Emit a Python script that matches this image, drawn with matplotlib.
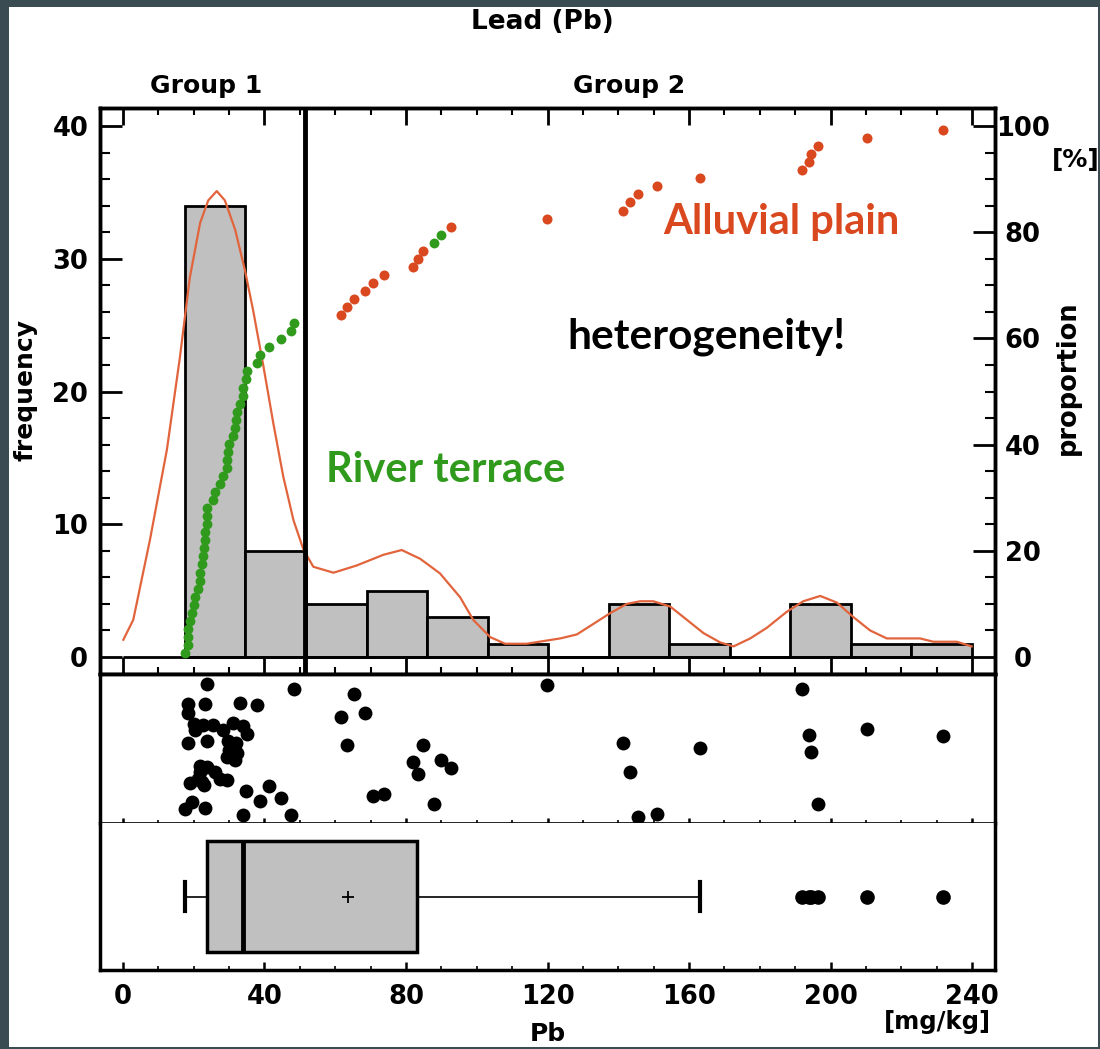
import numpy as np
import matplotlib
matplotlib.use("Agg")
from matplotlib import pyplot as plt
from matplotlib.patches import Rectangle
from matplotlib.ticker import MultipleLocator

plt.rcParams['font.family'] = ['DejaVu Sans']
plt.rcParams['font.weight'] = 'bold'

# Pb samples [mg/kg], sorted; True = river terrace (green), False = alluvial plain
pb = [17.5, 18.5, 18.5, 18.5, 18.8, 19.4, 20.1, 20.4, 21.3, 21.8, 21.8, 22.2,
      22.5, 23.0, 23.2, 23.2, 23.8, 23.8, 23.8, 25.4, 26.0, 27.4, 28.2, 29.3,
      29.3, 29.8, 30.1, 31.2, 31.7, 31.9, 32.1, 33.1, 34.0, 34.0, 34.8, 35.1,
      38.0, 38.7, 41.4, 44.7, 47.4, 48.3,
      61.5, 63.2, 65.3, 68.5, 70.6, 73.8, 81.9, 83.5, 84.7, 87.9, 89.8, 92.6,
      119.9, 141.4, 143.4, 145.6, 151.0, 163.1, 192.0, 194.0, 194.5, 196.5,
      210.3, 231.8]
terrace = [True] * 42 + [False] * 9 + [True, True] + [False] * 13

# vertical scatter of the samples in the middle strip (0 = bottom, 1 = top)
strip_y = [0.096, 0.801, 0.740, 0.539, 0.270, 0.141, 0.666, 0.622, 0.293, 0.342,
           0.383, 0.275, 0.660, 0.253, 0.801, 0.101, 0.931, 0.548, 0.376, 0.660,
           0.342, 0.293, 0.626, 0.443, 0.286, 0.548, 0.488, 0.673, 0.421, 0.537,
           0.470, 0.807, 0.056, 0.651, 0.215, 0.600, 0.790, 0.146, 0.247, 0.170,
           0.056, 0.901,
           0.711, 0.525, 0.868, 0.740, 0.181, 0.196, 0.409, 0.326, 0.521, 0.129,
           0.421, 0.371, 0.924, 0.537, 0.340, 0.040, 0.062, 0.506, 0.898, 0.591,
           0.479, 0.128, 0.634, 0.585]

# density curve (scaled to frequency)
kde_x = [0.1, 2.9, 7.6, 12.4, 16.1, 18.9, 21.8, 24.1, 26.5, 28.8, 31.7, 34.5,
         36.8, 39.7, 42.5, 45.3, 48.2, 51.0, 53.8, 59.5, 66.1, 73.6, 78.8, 84.0,
         89.6, 95.3, 99.0, 103.8, 108.0, 114.1, 118.8, 123.6, 128.3, 133.0, 137.7,
         142.4, 146.2, 149.9, 154.7, 159.4, 164.1, 168.8, 172.6, 177.3, 182.0,
         187.6, 192.3, 197.1, 201.8, 206.5, 211.2, 215.9, 225.3, 229.1, 235.7, 239.9]
kde_y = [1.3, 2.8, 8.8, 15.6, 22.6, 28.6, 32.7, 34.4, 35.1, 34.4, 32.2, 29.1,
         26.1, 21.9, 17.6, 13.6, 10.3, 8.1, 6.8, 6.35, 6.9, 7.7, 8.06, 7.4,
         6.3, 4.5, 2.8, 1.5, 1.0, 1.0, 1.2, 1.4, 1.7, 2.5, 3.3,
         4.0, 4.2, 4.2, 3.8, 2.8, 1.8, 1.1, 0.8, 1.4, 2.2,
         3.4, 4.2, 4.6, 4.1, 3.0, 2.0, 1.4, 1.4, 1.15, 1.15, 0.8]

group_split = 51.5
hist_bins = np.linspace(17.5, 240, 14)

ORANGE = '#D9481E'
GREEN = '#2F9A1C'
GREY = '#C0C0C0'

W, H = 1100, 1049
fig = plt.figure(figsize=(W / 100, H / 100), dpi=100)
fig.patch.set_facecolor('#3B4B52')
fig.add_artist(Rectangle((9 / W, 2 / H), 1089 / W, 1040 / H, transform=fig.transFigure,
                         facecolor='white', edgecolor='none', zorder=-10))


def fx(x):
    return x / W


def fy(y):
    return 1 - y / H


L, R = 100, 995
ax_h = fig.add_axes([fx(L), fy(674), (R - L) / W, (674 - 108) / H])
ax_s = fig.add_axes([fx(L), fy(823), (R - L) / W, (823 - 674) / H], sharex=ax_h)
ax_b = fig.add_axes([fx(L), fy(970), (R - L) / W, (970 - 823) / H], sharex=ax_h)
ax_p = ax_h.twinx()

pb_arr = np.array(pb)
n = len(pb_arr)
order = np.argsort(pb_arr, kind='stable')
pct = (np.arange(n) + 0.5) / n * 100
is_ter = np.array(terrace)[order]

# ---- histogram panel
ax_h.hist(pb_arr, bins=hist_bins, color=GREY, edgecolor='black', linewidth=2, zorder=2)
ax_h.hlines(0, 0, 240, color='black', lw=2, zorder=3)
ax_h.plot(kde_x, kde_y, color='#E2643C', lw=1.6, zorder=4)
ax_h.axvline(group_split, color='black', lw=3.5, zorder=6)

ax_p.scatter(pb_arr[order][~is_ter], pct[~is_ter], s=52, color=ORANGE, zorder=5, linewidths=0)
ax_p.scatter(pb_arr[order][is_ter], pct[is_ter], s=50, color=GREEN, zorder=5, linewidths=0)

ax_h.set_xlim(-6.5, 246.5)
ax_h.set_ylim(-1.28, 41.36)
ax_p.set_ylim(-1.28 * 2.5, 41.36 * 2.5)

ax_h.xaxis.set_major_locator(MultipleLocator(40))
ax_h.xaxis.set_minor_locator(MultipleLocator(10))
ax_h.set_yticks([0, 10, 20, 30, 40])
ax_h.yaxis.set_minor_locator(MultipleLocator(2))
ax_p.set_yticks([0, 20, 40, 60, 80, 100])
ax_p.yaxis.set_minor_locator(MultipleLocator(5))

ax_h.tick_params(axis='x', which='both', direction='in', top=True, bottom=True,
                 labelbottom=False)
ax_h.tick_params(axis='x', which='major', length=12, width=2)
ax_h.tick_params(axis='x', which='minor', length=5, width=1.5)
ax_h.tick_params(axis='y', which='both', direction='in', left=True, right=False)
ax_h.tick_params(axis='y', which='major', length=16, width=2, labelsize=18.5, pad=8.5)
ax_h.tick_params(axis='y', which='minor', length=7, width=1.5)
ax_p.tick_params(axis='y', which='both', direction='in', right=True)
ax_p.tick_params(axis='y', which='major', length=16, width=2, labelsize=18.5, pad=20)
ax_p.tick_params(axis='y', which='minor', length=7, width=1.5)
for lab in ax_p.get_yticklabels():
    lab.set_horizontalalignment('center')

# ---- strip panel
ax_s.scatter(pb_arr, strip_y, s=100, color='black', linewidths=0, zorder=3)
ax_s.set_ylim(0, 1)
ax_s.set_yticks([])
ax_s.tick_params(axis='x', which='both', direction='inout', labelbottom=False)
ax_s.tick_params(axis='x', which='major', length=7, width=1.8)
ax_s.tick_params(axis='x', which='minor', length=4, width=1.2)

# ---- box panel
ax_b.boxplot(pb_arr, orientation='horizontal', positions=[0.5], widths=0.76,
             whis=1.5, showmeans=True, patch_artist=True, capwidths=0.2,
             boxprops=dict(facecolor=GREY, edgecolor='black', linewidth=2.5),
             medianprops=dict(color='black', linewidth=3.5),
             whiskerprops=dict(color='black', linewidth=1.2),
             capprops=dict(color='black', linewidth=3),
             meanprops=dict(marker='+', markeredgecolor='black', markersize=8,
                            markeredgewidth=1.3),
             flierprops=dict(marker='o', markerfacecolor='black',
                             markeredgecolor='black', markersize=9.5))
ax_b.set_ylim(0, 1)
ax_b.set_yticks([])
ax_b.set_xticks([0, 40, 80, 120, 160, 200, 240])
ax_b.xaxis.set_minor_locator(MultipleLocator(10))
ax_b.set_xlim(-6.5, 246.5)
ax_b.tick_params(axis='x', which='both', direction='in', labelsize=18.5, pad=10)
ax_b.tick_params(axis='x', which='major', length=6, width=1.8)
ax_b.tick_params(axis='x', which='minor', length=3, width=1.2)

for ax in (ax_h, ax_p, ax_s, ax_b):
    for sp in ax.spines.values():
        sp.set_linewidth(2.5)
ax_s.spines['bottom'].set_linewidth(1.2)
ax_b.spines['top'].set_visible(False)

# ---- texts
fig.text(fx(542), fy(22), 'Lead (Pb)', ha='center', va='center', fontsize=19)
fig.text(fx(206), fy(86), 'Group 1', ha='center', va='center', fontsize=18)
fig.text(fx(629), fy(86), 'Group 2', ha='center', va='center', fontsize=18)
fig.text(fx(25), fy(390), 'frequency', rotation=90, ha='center', va='center', fontsize=18)
fig.text(fx(1068), fy(378), 'proportion', rotation=90, ha='center', va='center', fontsize=18.5)
fig.text(fx(1076), fy(160), '[%]', ha='center', va='center', fontsize=18)
fig.text(fx(548), fy(1034), 'Pb', ha='center', va='center', fontsize=18)
fig.text(fx(937), fy(1022), '[mg/kg]', ha='center', va='center', fontsize=17.5)

fig.text(fx(781), fy(222), 'Alluvial plain', ha='center', va='center', fontsize=30,
         color=ORANGE, family=['Lato', 'DejaVu Sans'], weight='bold')
fig.text(fx(706), fy(337), 'heterogeneity!', ha='center', va='center', fontsize=30.5,
         color='black', family=['Lato', 'DejaVu Sans'], weight='bold')
fig.text(fx(446), fy(470), 'River terrace', ha='center', va='center', fontsize=30,
         color=GREEN, family=['Lato', 'DejaVu Sans'], weight='bold')

fig.savefig('out.png', dpi=100, facecolor=fig.get_facecolor())
